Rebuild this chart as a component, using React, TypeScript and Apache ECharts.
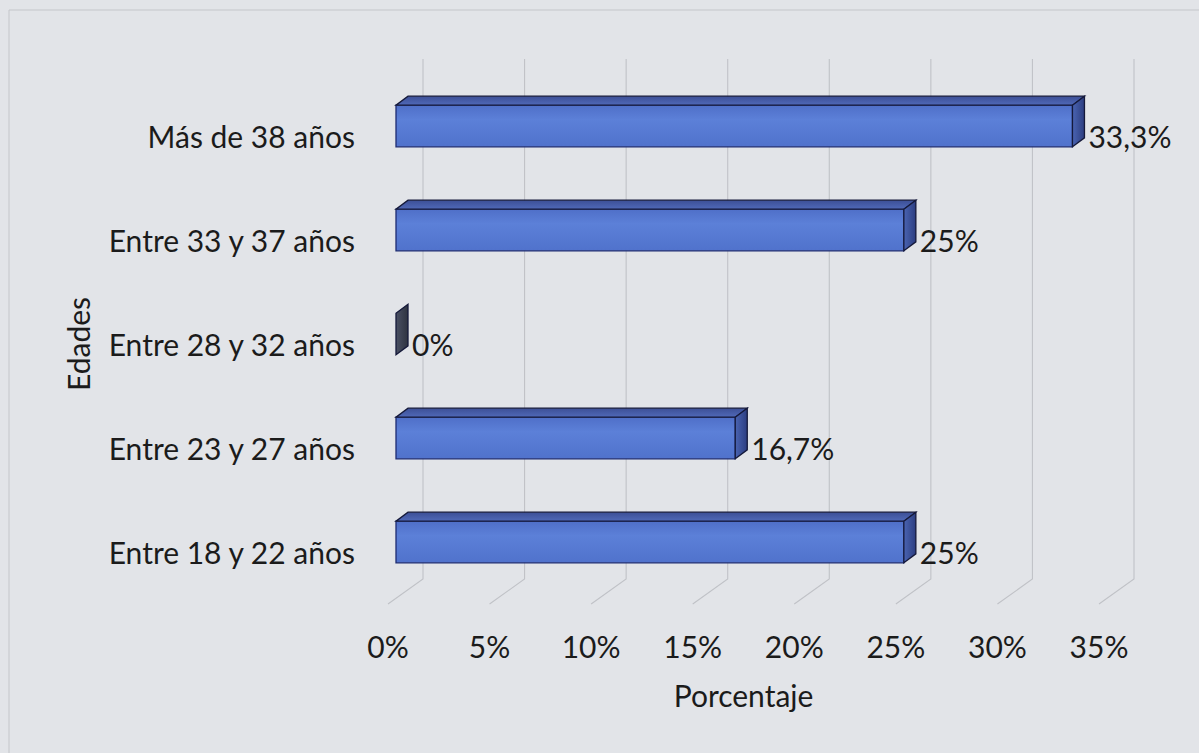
import React, { useEffect, useRef } from "react";
import * as echarts from "echarts";

const categories = [
  "Entre 18 y 22 años",
  "Entre 23 y 27 años",
  "Entre 28 y 32 años",
  "Entre 33 y 37 años",
  "Más de 38 años",
];
const percentages = [25, 16.7, 0, 25, 33.3];
const xTicks = [0, 5, 10, 15, 20, 25, 30, 35];

const FONT = "Lato";
const FS = 30;
const TEXT = "#1b1b1b";
// projection offsets of the 3D look
const BACK_DX = 35;
const BACK_DY = 25;
const BAR_SHIFT = 8;
const BAR_DX = 12;
const BAR_DY = 9;

function fmt(v: number) {
  return String(v).replace(".", ",") + "%";
}

export default function App() {
  const ref = useRef<HTMLDivElement>(null);
  useEffect(() => {
    if (!ref.current) return;
    const chart = echarts.init(ref.current, null, { renderer: "svg" });
    const option: any = {
      animation: false,
      backgroundColor: "#e2e4e8",
      graphic: [
        {
          type: "rect",
          shape: { x: 9, y: 10, width: 1400, height: 1000 },
          style: { fill: "none", stroke: "#c4c6ca", lineWidth: 1 },
          silent: true,
        },
      ],
      grid: { left: 388, right: 100, top: 84, height: 520 },
      xAxis: {
        type: "value",
        min: 0,
        max: 35,
        interval: 5,
        axisLine: { show: false },
        axisTick: { show: false },
        splitLine: { show: false },
        axisLabel: {
          formatter: "{value}%",
          fontFamily: FONT,
          fontSize: FS,
          color: TEXT,
          margin: 27,
        },
        name: "Porcentaje",
        nameLocation: "middle",
        nameGap: 76,
        nameTextStyle: { fontFamily: FONT, fontSize: FS, color: TEXT },
      },
      yAxis: {
        type: "category",
        data: categories,
        axisLine: { show: false },
        axisTick: { show: false },
        splitLine: { show: false },
        axisLabel: {
          fontFamily: FONT,
          fontSize: FS,
          color: TEXT,
          margin: 33,
        },
        name: "Edades",
        nameLocation: "middle",
        nameGap: 295,
        nameTextStyle: { fontFamily: FONT, fontSize: FS, color: TEXT },
      },
      series: [
        {
          type: "custom",
          name: "grid",
          silent: true,
          z: 1,
          data: xTicks.map((t) => [t, 0]),
          encode: { x: 0, y: 1 },
          renderItem: (params: any, api: any) => {
            const cs = params.coordSys;
            const x = api.coord([api.value(0), 0])[0];
            const bottom = cs.y + cs.height;
            const top = cs.y;
            return {
              type: "polyline",
              shape: {
                points: [
                  [x, bottom],
                  [x + BACK_DX, bottom - BACK_DY],
                  [x + BACK_DX, top - BACK_DY],
                ],
              },
              style: { stroke: "#c0c2c7", lineWidth: 1.1, fill: "none" },
            };
          },
        },
        {
          type: "custom",
          name: "Porcentaje",
          z: 3,
          data: percentages.map((v, i) => [v, i]),
          encode: { x: 0, y: 1 },
          renderItem: (params: any, api: any) => {
            const v = api.value(0);
            const idx = api.value(1);
            const x0 = api.coord([0, idx])[0] + BAR_SHIFT;
            const p1 = api.coord([v, idx]);
            const x1 = p1[0] + BAR_SHIFT;
            const yc = p1[1];
            const band = api.size([0, 1])[1];
            const h = band * 0.4;
            const ty = yc - 10 - h / 2;
            const by = yc - 10 + h / 2;
            const children: any[] = [];
            if (x1 - x0 > 0.5) {
              children.push({
                type: "rect",
                shape: { x: x0, y: ty, width: x1 - x0, height: h },
                style: {
                  fill: new echarts.graphic.LinearGradient(0, 0, 0, 1, [
                    { offset: 0, color: "#4f6fc8" },
                    { offset: 0.35, color: "#5c80d8" },
                    { offset: 1, color: "#5072cc" },
                  ]),
                  stroke: "#1e2c72",
                  lineWidth: 1.3,
                },
              });
              children.push({
                type: "polygon",
                shape: {
                  points: [
                    [x0, ty],
                    [x1, ty],
                    [x1 + BAR_DX, ty - BAR_DY],
                    [x0 + BAR_DX, ty - BAR_DY],
                  ],
                },
                style: {
                  fill: new echarts.graphic.LinearGradient(0, 0, 0, 1, [
                    { offset: 0, color: "#3c4f96" },
                    { offset: 1, color: "#5069b8" },
                  ]),
                  stroke: "#15193a",
                  lineWidth: 1.3,
                },
              });
            }
            children.push({
              type: "polygon",
              shape: {
                points: [
                  [x1, ty],
                  [x1 + BAR_DX, ty - BAR_DY],
                  [x1 + BAR_DX, by - BAR_DY],
                  [x1, by],
                ],
              },
              style: {
                fill: new echarts.graphic.LinearGradient(0, 0, 1, 0, [
                  { offset: 0, color: v > 0 ? "#4a64b2" : "#4a5064" },
                  { offset: 1, color: v > 0 ? "#2c3d80" : "#2e3340" },
                ]),
                stroke: "#15193a",
                lineWidth: 1.3,
              },
            });
            children.push({
              type: "text",
              style: {
                x: x1 + BAR_DX + 4,
                y: yc,
                text: fmt(v),
                fontFamily: FONT,
                fontSize: FS,
                fill: TEXT,
                verticalAlign: "middle",
                align: "left",
              },
            });
            return { type: "group", children };
          },
        },
      ],
    };
    chart.setOption(option);
    return () => chart.dispose();
  }, []);
  return (
    <div
      ref={ref}
      style={{ position: "fixed", left: 0, top: 0, width: 1199, height: 753 }}
    />
  );
}
